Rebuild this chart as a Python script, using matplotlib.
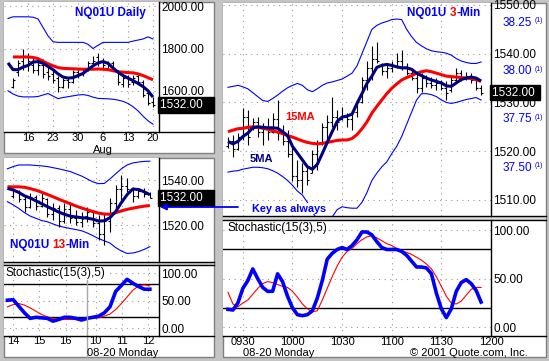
import matplotlib
matplotlib.use("Agg")
import matplotlib.pyplot as plt
from matplotlib.patches import Rectangle
from matplotlib.lines import Line2D
from matplotlib.text import Annotation
import numpy as np

plt.rcParams['font.family'] = ['Liberation Sans', 'DejaVu Sans']

W, H = 549, 361
NAVY = '#000080'
RED = '#ff0000'
BLUE = '#0000ff'
GRID = '#9a9a9a'

# daily bars 07-11 .. 08-20
d_high = [1660, 1745, 1797, 1781, 1760, 1756, 1748, 1724, 1700, 1668, 1660, 1660, 1700, 1708, 1708,
          1740, 1765, 1781, 1756, 1740, 1740, 1700, 1668, 1676, 1676, 1684, 1652, 1595, 1571]
d_low = [1611, 1670, 1700, 1692, 1684, 1676, 1660, 1652, 1635, 1595, 1611, 1611, 1635, 1660, 1668,
         1692, 1716, 1716, 1708, 1700, 1692, 1627, 1619, 1619, 1627, 1635, 1571, 1531, 1523]
d_open = [1620, 1690, 1740, 1760, 1720, 1700, 1720, 1690, 1680, 1660, 1620, 1650, 1640, 1690, 1680,
          1700, 1730, 1760, 1740, 1710, 1730, 1690, 1630, 1660, 1640, 1670, 1640, 1590, 1545]
d_close = [1650, 1730, 1720, 1740, 1700, 1720, 1680, 1670, 1650, 1620, 1650, 1640, 1690, 1680, 1690,
           1730, 1740, 1730, 1720, 1720, 1700, 1640, 1660, 1630, 1660, 1640, 1580, 1540, 1532]
d_ma5 = [1732, 1700, 1700, 1712, 1720, 1736, 1738, 1730, 1715, 1700, 1680, 1665, 1660, 1662, 1672,
         1682, 1700, 1718, 1732, 1738, 1730, 1708, 1688, 1672, 1660, 1648, 1635, 1620, 1600, 1570]
d_ma15 = [1760, 1760, 1760, 1760, 1758, 1752, 1740, 1728, 1718, 1710, 1706, 1705, 1704, 1703, 1702,
          1702, 1702, 1703, 1702, 1700, 1695, 1690, 1688, 1686, 1685, 1680, 1672, 1662, 1652]
d_upper = [1942, 1950, 1950, 1950, 1950, 1948, 1940, 1900, 1860, 1832, 1829, 1829, 1829, 1829, 1829,
           1829, 1820, 1800, 1815, 1829, 1829, 1829, 1829, 1829, 1829, 1835, 1840, 1845, 1855, 1845]
d_lower = [1600, 1585, 1575, 1571, 1571, 1571, 1573, 1580, 1587, 1575, 1563, 1568, 1572, 1576, 1580,
           1582, 1578, 1570, 1564, 1563, 1562, 1560, 1556, 1550, 1540, 1525, 1505, 1480, 1458, 1442]
d_tick_pos = [3, 8, 13, 18, 23, 28]
d_tick_lab = ['16', '23', '30', '6', '13', '20']
d_yticks = [1600, 1800, 2000]

# 13-min bars
m_high = [1536.3, 1535.6, 1533.3, 1534.1, 1533.3, 1534.1, 1531.9, 1529.6, 1528.9, 1529.6, 1530.4, 1526.7, 1525.9,
          1528.2, 1526.7, 1524.5, 1525.2, 1531.9, 1537.8, 1542.2, 1540.7, 1537.0, 1536.3, 1536.3, 1534.8]
m_low = [1531.9, 1530.4, 1525.9, 1527.4, 1526.7, 1528.2, 1523.7, 1522.2, 1519.3, 1520.8, 1520.8, 1520.0, 1519.3,
         1521.5, 1519.3, 1513.4, 1511.1, 1517.1, 1525.2, 1530.4, 1534.8, 1530.4, 1531.9, 1532.6, 1531.9]
m_open = [1533.0, 1535.0, 1531.5, 1528.0, 1532.5, 1528.5, 1531.5, 1525.0, 1527.5, 1522.0, 1527.0, 1523.0, 1521.5,
          1524.0, 1526.0, 1521.0, 1516.0, 1522.0, 1530.0, 1536.0, 1537.5, 1536.0, 1533.0, 1535.0, 1534.0]
m_close = [1535.0, 1531.5, 1528.0, 1532.5, 1528.5, 1532.0, 1525.0, 1527.5, 1522.0, 1527.0, 1523.0, 1521.5, 1522.5,
           1526.0, 1521.0, 1516.0, 1522.0, 1530.0, 1536.0, 1537.5, 1536.0, 1533.0, 1535.0, 1534.0, 1532.0]
m_ma5 = [1536.3, 1535.6, 1534.5, 1533.0, 1532.0, 1530.8, 1529.5, 1528.2, 1527.0, 1525.8, 1524.8, 1524.0, 1523.6,
         1523.3, 1523.1, 1522.6, 1521.8, 1521.9, 1523.3, 1526.0, 1530.0, 1533.5, 1536.0, 1535.8, 1534.8, 1533.5]
m_ma15 = [1537.0, 1537.0, 1537.0, 1536.8, 1536.2, 1535.5, 1534.6, 1533.6, 1532.6, 1531.5, 1530.5, 1529.5, 1528.5,
          1527.6, 1526.8, 1526.0, 1525.3, 1524.9, 1524.8, 1525.5, 1526.3, 1527.0, 1527.5, 1528.0, 1528.4, 1528.7]
m_upper = [1545.0, 1546.0, 1546.7, 1546.7, 1546.7, 1546.5, 1546.3, 1546.0, 1545.5, 1545.0, 1544.4, 1543.8, 1542.8,
           1541.8, 1540.5, 1539.2, 1538.4, 1538.5, 1540.5, 1542.8, 1545.0, 1546.7, 1547.6, 1548.0, 1548.3, 1548.4]
m_lower = [1530.4, 1529.0, 1527.4, 1525.5, 1524.0, 1523.0, 1522.0, 1521.5, 1520.5, 1519.6, 1519.0, 1518.5, 1518.0,
           1517.5, 1516.5, 1515.3, 1514.0, 1513.0, 1512.0, 1510.0, 1508.5, 1507.4, 1507.6, 1508.2, 1509.2, 1510.4]
m_stk = [51, 52, 40, 28, 18, 20, 19, 18, 13, 16, 20, 20, 18, 15, 18, 20, 22, 28, 39, 67, 78, 89, 82, 76, 71, 71]
m_std = [39, 43, 45, 42, 37, 31, 25, 21, 18, 16, 16, 16, 16, 17, 18, 18, 19, 22, 26, 34, 45, 57, 69, 77, 79, 77]
m_tick_pos = [0, 4.6, 9.2, 14.5, 19.1, 23.7]
m_tick_lab = ['14', '15', '16', '10', '11', '12']
m_yticks = [1520, 1540]

# 3-min bars 08-20, minutes from 09:30
r_time = np.arange(-9, 147, 3)
r_high = [1523.0, 1523.3, 1523.7, 1528.8, 1528.5, 1526.8, 1527.1, 1525.7, 1526.8, 1527.8, 1530.5, 1525.4, 1524.4,
          1520.9, 1518.2, 1517.5, 1516.8, 1520.3, 1522.3, 1525.7, 1527.4, 1531.2, 1528.5, 1529.1, 1527.8, 1528.5,
          1530.5, 1535.3, 1538.4, 1541.5, 1542.5, 1538.0, 1537.7, 1538.4, 1540.1, 1540.8, 1538.0, 1536.7, 1536.3,
          1536.0, 1535.6, 1535.3, 1535.0, 1534.6, 1534.3, 1535.3, 1537.0, 1536.7, 1536.3, 1536.0, 1534.6, 1533.6]
r_low = [1520.6, 1518.9, 1520.3, 1522.3, 1521.3, 1524.4, 1523.0, 1521.3, 1522.3, 1523.7, 1522.3, 1521.3, 1518.9,
         1513.8, 1512.7, 1511.4, 1513.1, 1515.5, 1516.2, 1521.3, 1522.3, 1525.0, 1524.4, 1526.4, 1525.0, 1524.4,
         1527.1, 1529.8, 1532.6, 1534.6, 1538.0, 1535.6, 1535.0, 1536.3, 1537.0, 1536.7, 1535.6, 1534.6, 1531.9,
         1532.2, 1533.2, 1532.9, 1532.6, 1532.6, 1530.5, 1532.2, 1534.3, 1534.3, 1534.6, 1533.9, 1532.6, 1531.5]
r_open = [1521.0, 1522.0, 1520.5, 1523.0, 1527.0, 1525.0, 1526.0, 1524.0, 1525.0, 1524.0, 1526.5, 1524.0, 1522.0,
          1519.5, 1515.0, 1514.0, 1516.0, 1515.5, 1519.5, 1521.5, 1525.0, 1526.0, 1527.0, 1526.5, 1527.0, 1526.5,
          1528.0, 1530.0, 1534.5, 1537.0, 1539.0, 1537.5, 1536.5, 1537.0, 1537.5, 1538.5, 1537.0, 1536.0, 1535.0,
          1533.0, 1535.0, 1534.0, 1533.5, 1534.0, 1533.0, 1532.5, 1534.5, 1536.0, 1535.0, 1535.5, 1534.5, 1533.0]
r_close = [1522.0, 1520.5, 1523.0, 1527.0, 1523.0, 1526.0, 1524.0, 1525.0, 1524.0, 1526.5, 1524.0, 1522.0, 1519.5,
           1515.0, 1514.0, 1516.0, 1514.0, 1519.5, 1521.5, 1525.0, 1526.0, 1527.0, 1526.0, 1527.0, 1526.5, 1528.0,
           1530.0, 1534.5, 1537.0, 1539.0, 1538.5, 1536.5, 1537.0, 1537.5, 1538.5, 1537.0, 1536.0, 1535.0, 1533.0,
           1535.0, 1534.0, 1533.5, 1534.0, 1533.0, 1532.0, 1534.5, 1536.0, 1535.0, 1535.5, 1534.5, 1533.0, 1532.0]
r_ma5 = [1522.0, 1521.5, 1522.0, 1523.0, 1523.7, 1524.8, 1525.0, 1524.9, 1524.8, 1524.8, 1524.7, 1524.0, 1523.2,
         1521.0, 1519.6, 1518.2, 1516.8, 1516.3, 1517.3, 1519.5, 1521.8, 1524.0, 1526.1, 1527.0, 1527.2, 1527.6,
         1529.8, 1531.8, 1533.9, 1535.4, 1537.2, 1537.6, 1537.8, 1537.6, 1537.3, 1537.1, 1537.1, 1536.8, 1536.0,
         1535.5, 1535.0, 1534.6, 1534.3, 1534.0, 1533.4, 1533.3, 1534.0, 1534.7, 1535.0, 1535.2, 1535.0, 1534.4]
r_ma15 = [1524.0, 1524.3, 1524.6, 1524.7, 1524.9, 1525.0, 1524.9, 1524.7, 1524.5, 1524.2, 1523.9, 1523.6, 1523.2,
          1522.9, 1522.5, 1522.1, 1521.8, 1521.6, 1521.5, 1521.6, 1521.8, 1522.0, 1522.2, 1522.3, 1522.3, 1522.6,
          1523.4, 1524.6, 1526.0, 1527.8, 1529.2, 1530.5, 1531.8, 1532.9, 1533.8, 1534.6, 1535.1, 1535.5, 1536.0,
          1536.3, 1536.5, 1536.3, 1536.0, 1535.7, 1535.4, 1535.3, 1535.2, 1535.1, 1535.0, 1534.9, 1534.7, 1534.3]
r_upper = [1533.1, 1533.3, 1533.5, 1533.2, 1532.8, 1532.0, 1531.2, 1530.4, 1530.2, 1530.8, 1531.5, 1532.3, 1533.0,
           1533.5, 1533.9, 1533.5, 1532.6, 1532.2, 1532.8, 1533.5, 1534.0, 1534.2, 1534.5, 1534.8, 1535.4, 1536.0,
           1537.5, 1540.0, 1542.5, 1545.0, 1545.8, 1546.3, 1546.6, 1547.0, 1547.1, 1547.0, 1545.0, 1543.5, 1542.3,
           1541.6, 1541.0, 1540.6, 1540.4, 1540.3, 1540.1, 1539.7, 1539.0, 1538.5, 1538.2, 1538.0, 1538.0, 1538.3]
r_lower = [1515.7, 1515.9, 1516.0, 1516.3, 1516.5, 1516.7, 1516.7, 1516.6, 1516.4, 1516.0, 1515.5, 1514.8, 1514.0,
           1513.0, 1511.8, 1511.0, 1509.5, 1507.5, 1506.0, 1505.5, 1505.8, 1506.5, 1508.0, 1508.6, 1508.4, 1508.3,
           1508.3, 1509.5, 1511.5, 1514.0, 1515.5, 1516.8, 1517.8, 1519.5, 1521.0, 1523.0, 1525.5, 1528.0, 1530.5,
           1531.8, 1531.8, 1531.6, 1531.2, 1530.5, 1530.0, 1529.8, 1530.0, 1530.3, 1530.6, 1530.8, 1531.0, 1530.5]
r_stk = [18.5, 17.8, 25, 40, 48, 60, 50, 41, 37, 37, 55, 47, 32, 20, 13, 12, 13, 17, 30, 48, 70, 76, 80, 82, 80, 84,
         90, 98, 98, 95, 88, 82, 80, 80, 80, 78, 74, 68, 62, 62, 61, 55, 35, 19, 10, 19, 37, 46, 49, 45, 38, 26]
r_std = [36, 24, 21, 25, 28, 34, 40, 45, 47, 46, 44, 42, 41, 37, 31, 24, 19, 16, 17, 28, 40, 52, 63, 72, 78, 81,
         86, 90, 93, 94, 92, 89, 86, 84, 81, 79, 77, 75, 72, 69, 65, 60, 52, 42, 32, 25, 24, 27, 33, 39, 41, 41]
r_tick_pos = [0, 30, 60, 90, 120, 150]
r_tick_lab = ['0930', '1000', '1030', '1100', '1130', '1200']
r_yticks = [1510, 1520, 1530, 1540, 1550]
r_sec_ticks = [38.25, 38.00, 37.75, 37.50]
last_price = 1532.00
stoch_ticks = [0, 50, 100]


def px(x0, y0, x1, y1):
    return [x0 / W, 1 - y1 / H, (x1 - x0) / W, (y1 - y0) / H]


def hline_px(y, x0, x1, color='black'):
    fig.add_artist(Line2D([x0 / W, x1 / W], [1 - y / H, 1 - y / H], transform=fig.transFigure,
                          color=color, lw=1, zorder=3))


def setup(ax, xlim, ylim, xt, xl, yt, fmt='%.2f'):
    ax.set_xlim(xlim)
    ax.set_ylim(ylim)
    ax.yaxis.tick_right()
    ax.set_yticks(yt)
    ax.set_yticklabels([fmt % v for v in yt])
    ax.set_xticks(xt)
    ax.set_xticklabels(xl)
    ax.tick_params(length=0, labelsize=8.5, pad=1.5)
    ax.tick_params(axis='x', labelsize=8)
    for s in ['top', 'left', 'bottom']:
        ax.spines[s].set_visible(False)
    ax.spines['right'].set_linewidth(1)
    ax.grid(True, color=GRID, linestyle=(0, (1, 4)), linewidth=0.8)
    ax.set_axisbelow(True)


def ohlc(ax, x, o, h, l, c, w):
    ax.vlines(x, l, h, color='black', lw=0.8)
    ax.hlines(o, np.asarray(x) - w, x, color='black', lw=0.8)
    ax.hlines(c, x, np.asarray(x) + w, color='black', lw=0.8)


def title(ax, x, y, parts, size=8.5):
    t = ax.text(x, y, parts[0][0], color=parts[0][1], transform=ax.transAxes, fontsize=size,
                fontweight='bold', va='center', ha='left')
    for s, c in parts[1:]:
        t = ax.annotate(s, xy=(1, 0), xycoords=t, va='bottom', ha='left', color=c,
                        fontsize=size, fontweight='bold')


def price_box(ax, val, text):
    ax.text(1.004, val, text, transform=ax.get_yaxis_transform(), color='white', fontsize=8.5,
            va='center', ha='left', bbox=dict(boxstyle='square,pad=0.15', fc='black', ec='black'))


fig = plt.figure(figsize=(W / 100, H / 100), dpi=100)
fig.patch.set_facecolor('#c4c4c4')
for r in [(4, 2, 214, 153), (4, 158, 214, 357), (223, 3, 546, 357)]:
    x0, y0, x1, y1 = r
    fig.add_artist(Rectangle((x0 / W, 1 - y1 / H), (x1 - x0) / W, (y1 - y0) / H, transform=fig.transFigure,
                             fc='white', ec='#808080', lw=1, zorder=-1))
for r in [(4, 262, 214, 265), (223, 216, 546, 220)]:
    x0, y0, x1, y1 = r
    fig.add_artist(Rectangle((x0 / W, 1 - y1 / H), (x1 - x0) / W, (y1 - y0) / H, transform=fig.transFigure,
                             fc='#d8d8d8', ec='none', zorder=-1))

# daily
ax1 = fig.add_axes(px(4, 2, 159, 132))
setup(ax1, (-1.8, 29.2), (1405, 2020), d_tick_pos, d_tick_lab, d_yticks)
ax1.tick_params(axis='x', pad=1.0)
ax1.plot(np.arange(-1, 29), d_upper, color=BLUE, lw=0.8)
ax1.plot(np.arange(-1, 29), d_lower, color=BLUE, lw=0.8)
ohlc(ax1, np.arange(29), d_open, d_high, d_low, d_close, 0.4)
ax1.plot(np.arange(29), d_ma15, color=RED, lw=2.2, solid_capstyle='butt')
ax1.plot(np.arange(-1, 29), d_ma5, color=NAVY, lw=2.2, solid_capstyle='butt')
ax1.text(18, -0.135, 'Aug', transform=ax1.get_xaxis_transform(), ha='center', va='center', fontsize=8)
title(ax1, 0.458, 0.915, [('NQ01U Daily', BLUE)])
price_box(ax1, last_price, '%.2f   ' % last_price)

# 13-min
ax2 = fig.add_axes(px(4, 158, 159, 262))
setup(ax2, (-1.6, 25.6), (1503.6, 1549.8), m_tick_pos, [''] * 6, m_yticks)
ax2.plot(np.arange(-1, 25), m_upper, color=BLUE, lw=0.8)
ax2.plot(np.arange(-1, 25), m_lower, color=BLUE, lw=0.8)
ohlc(ax2, np.arange(25), m_open, m_high, m_low, m_close, 0.35)
ax2.plot(np.arange(-1, 25), m_ma15, color=RED, lw=2.2, solid_capstyle='butt')
ax2.plot(np.arange(-1, 25), m_ma5, color=NAVY, lw=2.2, solid_capstyle='butt')
title(ax2, 0.039, 0.163, [('NQ01U ', BLUE), ('13', RED), ('-Min', BLUE)])
price_box(ax2, last_price, '%.2f   ' % last_price)

# 13-min stochastic
ax3 = fig.add_axes(px(4, 265, 159, 336))
setup(ax3, (-1.6, 25.6), (-14, 115), m_tick_pos, m_tick_lab, stoch_ticks)
ax3.tick_params(axis='x', pad=0.3)
ax3.axhline(80, color='black', lw=1)
ax3.axhline(20, color='black', lw=1)
ax3.plot(np.arange(-1, 25), m_std, color=RED, lw=0.8)
ax3.plot(np.arange(-1, 25), m_stk, color=BLUE, lw=2.6)
ax3.text(0.01, 0.885, 'Stochastic(15(3),5)', transform=ax3.transAxes, fontsize=8.5, va='center',
         bbox=dict(fc='white', ec='none', pad=0.5))
fig.add_artist(Line2D([87 / W, 87 / W], [1 - 357 / H, 1 - 280 / H], transform=fig.transFigure,
                      color='#a8a8a8', lw=1, zorder=1))
fig.text(87 / W, 1 - 352.5 / H, '08-20 Monday', fontsize=8, va='center', ha='left')

# 3-min
ax4 = fig.add_axes(px(223, 3, 491, 216))
setup(ax4, (-12, 150), (1506.7, 1550.4), r_tick_pos, [''] * 6, r_yticks)
ax4.plot(r_time, r_upper, color=BLUE, lw=0.8)
ax4.plot(r_time, r_lower, color=BLUE, lw=0.8)
ohlc(ax4, r_time, r_open, r_high, r_low, r_close, 1.2)
ax4.plot(r_time, r_ma15, color=RED, lw=2.2, solid_capstyle='butt')
ax4.plot(r_time, r_ma5, color=NAVY, lw=2.2, solid_capstyle='butt')
title(ax4, 0.687, 0.953, [('NQ01U ', BLUE), ('3', RED), ('-Min', BLUE)])
ax4.text(0.231, 0.465, '15MA', transform=ax4.transAxes, color=RED, fontsize=8, fontweight='bold', va='center')
ax4.text(0.1, 0.268, '5MA', transform=ax4.transAxes, color=NAVY, fontsize=8, fontweight='bold', va='center')
ax4.text(0.108, 0.035, 'Key as always', transform=ax4.transAxes, color=BLUE, fontsize=7.8,
         fontweight='bold', va='center', bbox=dict(fc='white', ec='none', pad=0.5))
price_box(ax4, last_price, '%.2f ' % last_price)
for s in r_sec_ticks:
    p = 1546.37 + (s - 38.25) * 39.65
    ax4.text(1.153, p, '%.2f' % s, transform=ax4.get_yaxis_transform(), color=BLUE, fontsize=8.5,
             ha='right', va='center')
    ax4.text(1.162, p + 0.4, '(1)', transform=ax4.get_yaxis_transform(), color=BLUE, fontsize=5,
             ha='left', va='center')

# 3-min stochastic
ax5 = fig.add_axes(px(223, 220, 491, 336))
setup(ax5, (-12, 150), (-8.9, 110.3), r_tick_pos, r_tick_lab, stoch_ticks)
ax5.tick_params(axis='x', pad=0.5)
ax5.axhline(80, color='black', lw=1)
ax5.axhline(20, color='black', lw=1)
ax5.plot(r_time, r_std, color=RED, lw=0.8)
ax5.plot(r_time, r_stk, color=BLUE, lw=2.6)
ax5.text(0.015, 0.931, 'Stochastic(15(3),5)', transform=ax5.transAxes, fontsize=8.5, va='center')
fig.text(243 / W, 1 - 353 / H, '08-20 Monday', fontsize=8, va='center', ha='left')
fig.text(410 / W, 1 - 353 / H, '\u00a9 2001 Quote.com, Inc.', fontsize=8, va='center', ha='left')

# horizontal frame lines across plot and scale areas
for y in [132, 262, 265, 336]:
    hline_px(y, 4, 214)
for y in [216, 220, 336]:
    hline_px(y, 223, 546)

arrow = Annotation('', xy=(160, H - 207), xytext=(238, H - 207), xycoords='figure pixels',
                   textcoords='figure pixels',
                   arrowprops=dict(arrowstyle='-|>', color=BLUE, lw=1.3, mutation_scale=9, shrinkA=0, shrinkB=0))
arrow.set_zorder(5)
fig.add_artist(arrow)

fig.savefig('out.png', dpi=100)
